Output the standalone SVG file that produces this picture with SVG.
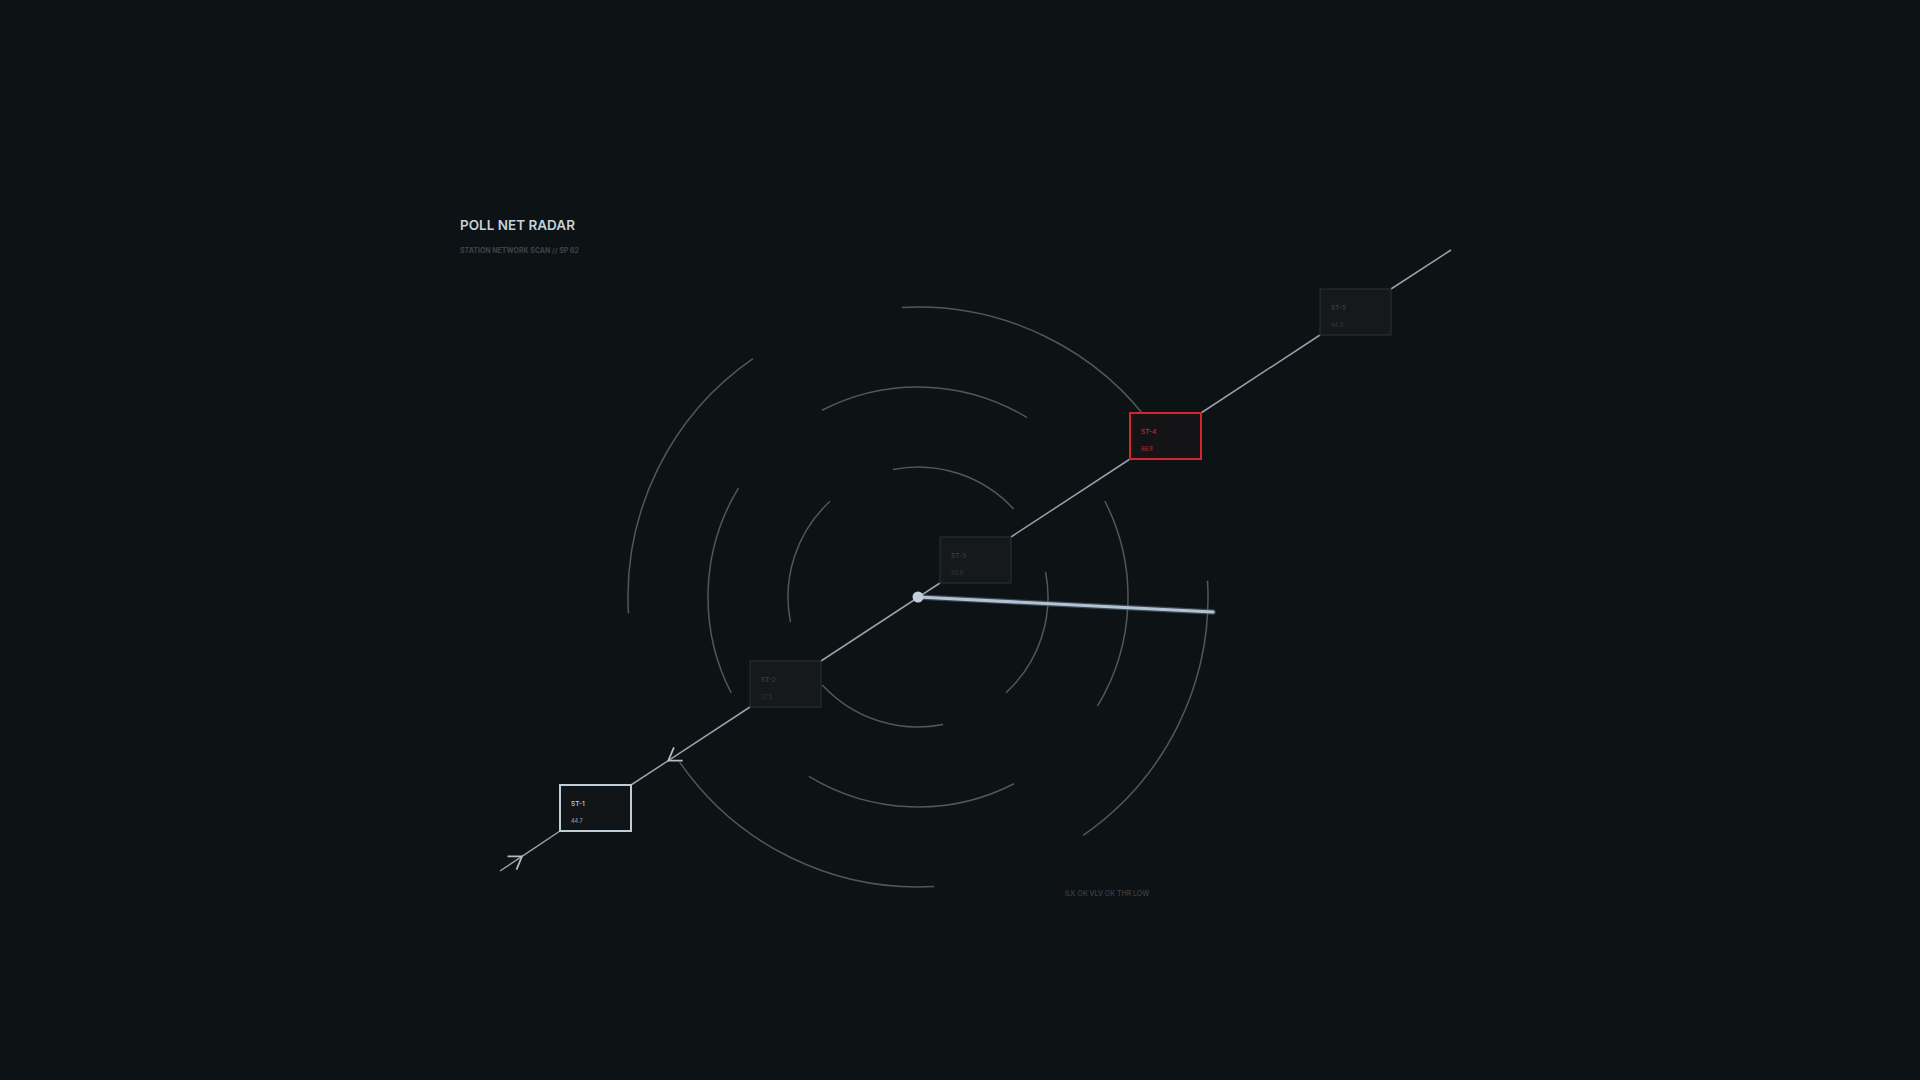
<svg xmlns="http://www.w3.org/2000/svg" width="1920" height="1080" viewBox="0 0 1920 1080">
  <defs>
    <style>
      .ring { fill: none; stroke: #4f585e; stroke-width: 1.5; }
      .conn { fill: none; stroke: #95a2ac; stroke-width: 1.5; }
      .box-dim { fill: #15191b; stroke: #2d3235; stroke-width: 1; }
      .box-act { fill: #111518; stroke: #bfcdd8; stroke-width: 2; }
      .box-alert { fill: #141416; stroke: #d3262d; stroke-width: 2; }
      .lbl { font-family: Inter, "Liberation Sans", sans-serif; font-size: 6.5px; font-weight: 500; }
      .val { font-family: Inter, "Liberation Sans", sans-serif; font-size: 5.5px; font-weight: 500; }
      .dim { fill: #3a4045; }
      .dimv { fill: #30363a; }
      .act { fill: #c8d2da; }
      .actv { fill: #8e9aa4; }
      .alert { fill: #d3262d; }
      .alertv { fill: #b5262c; }
    </style>
    <marker id="chev" viewBox="-14 -10 16 20" markerWidth="16" markerHeight="20" refX="0" refY="0" orient="auto" markerUnits="userSpaceOnUse" overflow="visible">
      <path d="M-12,-8 L0,0 L-12,8" fill="none" stroke="#b0bcc6" stroke-width="1.8"/>
    </marker>
  </defs>
  <rect x="0" y="0" width="1920" height="1080" fill="#0d1215"/>

  <g id="title">
    <text x="460" y="230" font-family="Inter, 'Liberation Sans', sans-serif" font-size="13.5" font-weight="600" fill="#c5d1db">POLL NET RADAR</text>
    <text x="460" y="253" font-family="Inter, 'Liberation Sans', sans-serif" font-size="7" font-weight="700" fill="#3d4449">STATION NETWORK SCAN // SP 62</text>
  </g>

  <g id="radar-rings">
    <path class="ring" d="M1045.57,571.97 A130,130 0 0 1 1005.99,692.69"/>
    <path class="ring" d="M943.03,724.57 A130,130 0 0 1 822.31,684.99"/>
    <path class="ring" d="M790.43,622.03 A130,130 0 0 1 830.01,501.31"/>
    <path class="ring" d="M892.97,469.43 A130,130 0 0 1 1013.69,509.01"/>

    <path class="ring" d="M1104.78,501.01 A210,210 0 0 1 1097.44,706.10"/>
    <path class="ring" d="M1013.99,783.78 A210,210 0 0 1 808.90,776.44"/>
    <path class="ring" d="M731.22,692.99 A210,210 0 0 1 738.56,487.90"/>
    <path class="ring" d="M822.01,410.22 A210,210 0 0 1 1027.10,417.56"/>

    <path class="ring" d="M1207.55,580.81 A290,290 0 0 1 1083.09,835.42"/>
    <path class="ring" d="M934.19,886.55 A290,290 0 0 1 679.58,762.09"/>
    <path class="ring" d="M628.45,613.19 A290,290 0 0 1 752.91,358.58"/>
    <path class="ring" d="M901.81,307.45 A290,290 0 0 1 1156.42,431.91"/>
  </g>

  <g id="connectors">
    <path class="conn" d="M500,871 L522,856.3 L560,831" marker-mid="url(#chev)"/>
    <path class="conn" d="M750,707 L668.3,760.6 L631,785" marker-mid="url(#chev)"/>
    <path class="conn" d="M821,661 L940,583"/>
    <path class="conn" d="M1011,537 L1130,459"/>
    <path class="conn" d="M1201,413 L1320,335"/>
    <path class="conn" d="M1391,289 L1451,250"/>
  </g>

  <g id="sweep">
    <line x1="918" y1="597" x2="1213" y2="612" stroke="#5b6b78" stroke-width="5.5" stroke-linecap="round" opacity="0.6"/>
    <line x1="918" y1="597" x2="1213" y2="612" stroke="#b2c4d3" stroke-width="3.2" stroke-linecap="round"/>
    <circle cx="918" cy="597" r="5.5" fill="#c3cfda"/>
  </g>

  <g id="st-1">
    <rect class="box-act" x="560" y="785" width="71" height="46"/>
    <text class="lbl act" x="571" y="806">ST-1</text>
    <text class="val actv" x="571" y="823">44.7</text>
  </g>
  <g id="st-2">
    <rect class="box-dim" x="750" y="661" width="71" height="46"/>
    <text class="lbl dim" x="761" y="682">ST-2</text>
    <text class="val dimv" x="761" y="699">37.5</text>
  </g>
  <g id="st-3">
    <rect class="box-dim" x="940" y="537" width="71" height="46"/>
    <text class="lbl dim" x="951" y="558">ST-3</text>
    <text class="val dimv" x="951" y="575">50.9</text>
  </g>
  <g id="st-4">
    <rect class="box-alert" x="1130" y="413" width="71" height="46"/>
    <text class="lbl alert" x="1141" y="434">ST-4</text>
    <text class="val alertv" x="1141" y="451">66.8</text>
  </g>
  <g id="st-5">
    <rect class="box-dim" x="1320" y="289" width="71" height="46"/>
    <text class="lbl dim" x="1331" y="310">ST-5</text>
    <text class="val dimv" x="1331" y="327">44.9</text>
  </g>

  <g id="status">
    <text x="1065" y="895.5" font-family="Inter, 'Liberation Sans', sans-serif" font-size="7" font-weight="500" fill="#3a4146">ILK OK VLV OK THR LOW</text>
  </g>
</svg>
